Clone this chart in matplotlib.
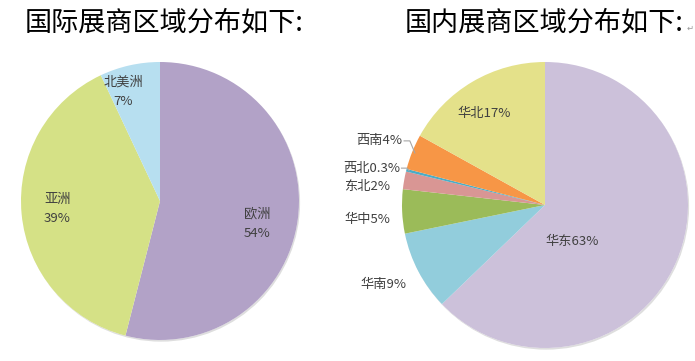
import numpy as np
import matplotlib
matplotlib.use("Agg")
import matplotlib.pyplot as plt
import matplotlib.patheffects as pe
from matplotlib.patches import Circle

plt.rcParams['font.family'] = ['Noto Sans CJK SC', 'DejaVu Sans']

# ---- data ----
intl_titles = "国际展商区域分布如下:"
intl_labels = ["欧洲", "亚洲", "北美洲"]
intl_values = [54, 39, 7]
intl_colors = ["#b2a2c7", "#d5e186", "#b7dff0"]

dom_title = "国内展商区域分布如下:"
dom_labels = ["华东", "华南", "华中", "东北", "西北", "西南", "华北"]
dom_values = [63, 9, 5, 2, 0.3, 4, 17]
dom_pct_text = ["63%", "9%", "5%", "2%", "0.3%", "4%", "17%"]
dom_colors = ["#ccc1da", "#92cddc", "#9bbb59", "#d99694", "#4bacc6", "#f79646", "#e4e18a"]

W, H = 695, 361
fig = plt.figure(figsize=(W / 100, H / 100), dpi=100)
fig.patch.set_facecolor("white")

def pie_axes(cx, cy, r):
    ax = fig.add_axes([(cx - r) / W, (H - cy - r) / H, 2 * r / W, 2 * r / H])
    ax.axis("off")
    return ax

def fix_limits(ax):
    ax.set_xlim(-1, 1)
    ax.set_ylim(-1, 1)
    ax.set_aspect("equal")

def add_shadow(ax):
    c = Circle((0, 0), 1.0, facecolor="white", edgecolor="none", zorder=0, clip_on=False)
    c.set_path_effects([pe.SimplePatchShadow(offset=(0.8, -1.2), shadow_rgbFace="#000000", alpha=0.13),
                        pe.Normal()])
    ax.add_patch(c)

txtc = "#404040"
lab_fs = 9.5

# ---- left pie ----
axL = pie_axes(160, 201, 139)
add_shadow(axL)
wedges, _ = axL.pie(intl_values, colors=intl_colors, startangle=90, counterclock=False,
                    radius=1.0, wedgeprops=dict(linewidth=0))
fix_limits(axL)
L_pos = [(-13, 0.72), (184.5, 0.74), (108.7, 0.83)]
for (a, r), name, v in zip(L_pos, intl_labels, intl_values):
    t = np.deg2rad(a)
    axL.text(r * np.cos(t), r * np.sin(t), f"{name}\n{v}%", ha="center", va="center",
             fontsize=lab_fs, color=txtc, linespacing=1.6)

# ---- right pie ----
axR = pie_axes(545, 205, 143)
add_shadow(axR)
wedges, _ = axR.pie(dom_values, colors=dom_colors, startangle=90, counterclock=False,
                    radius=1.0, wedgeprops=dict(linewidth=0))
fix_limits(axR)
R_pos = [(-53, 0.32), (-154, 1.26), (184.8, 1.25), (174, 1.25), (168, 1.24), (158.8, 1.24), (123.5, 0.77)]
leader = [False, False, False, False, True, True, False]
for w, (a, r), name, p, ld in zip(wedges, R_pos, dom_labels, dom_pct_text, leader):
    t = np.deg2rad(a)
    x, y = r * np.cos(t), r * np.sin(t)
    txt = axR.text(x, y, f"{name}{p}", ha="center", va="center", fontsize=lab_fs, color=txtc)
    if ld:
        mid = np.deg2rad((w.theta1 + w.theta2) / 2)
        ex, ey = 0.98 * np.cos(mid), 0.98 * np.sin(mid)
        fig.canvas.draw()
        bb = txt.get_window_extent().transformed(axR.transData.inverted())
        sx, sy = bb.x1 + 0.01, (bb.y0 + bb.y1) / 2
        axR.plot([sx, sx + 0.04, ex], [sy, sy, ey], color="#a6a6a6", lw=0.8, clip_on=False)

# ---- titles ----
fig.text(25 / W, 1 - 23 / H, intl_titles, ha="left", va="center", fontsize=19.5, color="black")
fig.text(405 / W, 1 - 23 / H, dom_title, ha="left", va="center", fontsize=19.5, color="black")
fig.text(687 / W, 1 - 28 / H, "↵", ha="left", va="center", fontsize=6, color="#999999")

fig.savefig("out.png", dpi=100, facecolor="white")
